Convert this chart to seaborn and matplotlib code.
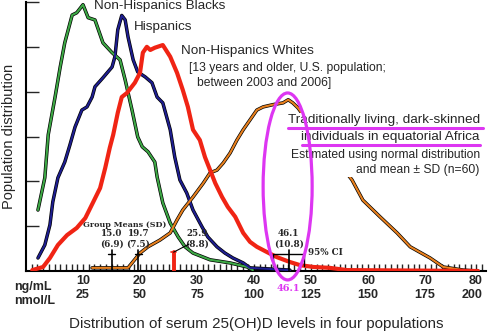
import matplotlib
matplotlib.use("Agg")
import matplotlib.pyplot as plt
import seaborn as sns
import numpy as np
import pandas as pd
from matplotlib.patches import Ellipse, Rectangle

# ---------------- data (x: ng/mL, y: relative population distribution) ----------------
blacks_x = [2.1, 3.3, 3.9, 5.1, 6.0, 6.8, 8.1, 8.9, 10.0, 10.9, 12.1, 13.5, 15.1, 16.5, 17.4,
            18.6, 19.6, 20.4, 21.4, 22.6, 23.0, 24.0, 25.3, 26.7, 27.9, 29.3, 32.3, 35.8, 38.8, 39.8]
blacks_y = [1.36, 2.08, 3.04, 3.88, 4.55, 5.09, 5.71, 5.76, 5.94, 5.65, 5.60, 5.09, 4.87, 4.71, 4.26,
            3.59, 2.99, 2.77, 2.66, 2.43, 2.10, 1.52, 1.07, 0.76, 0.54, 0.40, 0.25, 0.18, 0.09, 0.02]

hisp_x = [2.1, 3.3, 4.2, 4.7, 5.6, 6.8, 7.7, 8.6, 9.8, 10.7, 11.6, 12.1, 13.5, 15.1, 15.6, 16.1,
          16.8, 17.4, 17.9, 18.8, 19.6, 20.9, 22.1, 23.0, 24.0, 25.3, 26.1, 27.0, 28.2, 29.3, 30.9,
          31.9, 33.5, 34.9, 36.3, 38.1, 39.3, 46.3]
hisp_y = [0.29, 0.58, 1.03, 1.54, 2.08, 2.43, 2.81, 3.21, 3.59, 3.66, 3.88, 4.11, 4.31, 4.55, 4.78, 5.38,
          5.70, 5.60, 5.22, 4.71, 4.44, 4.33, 4.20, 3.88, 3.75, 3.15, 2.54, 2.03, 1.74, 1.36, 0.98,
          0.76, 0.54, 0.40, 0.29, 0.18, 0.07, 0.02]

whites_x = [1.1, 3.0, 4.2, 5.6, 7.2, 8.9, 10.4, 11.8, 13.0, 13.9, 14.7, 15.3, 16.1, 16.8, 17.7, 19.1,
            20.0, 20.5, 21.2, 21.8, 22.6, 24.0, 25.3, 26.5, 27.5, 28.4, 29.3, 30.5, 31.4, 32.3, 33.2,
            34.4, 35.4, 36.7, 38.1, 39.3, 40.5, 42.3, 44.0, 46.3, 48.1, 50.4, 53.3, 56.3, 79.3]
whites_y = [0.02, 0.09, 0.29, 0.58, 0.80, 0.96, 1.18, 1.54, 1.85, 2.30, 2.75, 3.04, 3.53, 3.88, 3.97, 4.20,
            4.42, 4.87, 5.00, 4.93, 4.98, 5.04, 4.78, 4.42, 4.04, 3.66, 3.15, 2.92, 2.54, 2.25, 1.96,
            1.65, 1.43, 1.21, 0.85, 0.65, 0.54, 0.42, 0.31, 0.20, 0.13, 0.09, 0.07, 0.02, 0.0]

africa_x = [11.6, 17.9, 20.0, 21.4, 23.5, 25.3, 26.5, 27.5, 29.3, 31.1, 32.3, 33.5, 34.6, 35.8, 37.0,
            38.1, 39.3, 40.5, 41.6, 43.3, 45.1, 46.0, 46.8, 47.7, 52.5, 57.2, 59.1, 62.1, 65.1, 67.4,
            70.9, 73.2, 76.7, 79.3]
africa_y = [0.07, 0.07, 0.40, 0.54, 0.69, 0.85, 1.14, 1.36, 1.65, 1.96, 2.19, 2.25, 2.41, 2.63, 2.92,
            3.15, 3.37, 3.59, 3.66, 3.71, 3.75, 3.82, 3.75, 3.64, 2.81, 2.03, 1.58, 1.21, 0.85, 0.54,
            0.29, 0.09, 0.02, 0.0]

group_means = [15.0, 19.7, 25.9, 46.1]
group_sds = [6.9, 7.5, 8.8, 10.8]
ci_low, ci_high = 43.4, 48.8

ng_ticks = [10, 20, 30, 40, 50, 60, 70, 80]
nmol_ticks = [25, 50, 75, 100, 125, 150, 175, 200]

# ---------------- style ----------------
sns.set_style("white")
plt.rcParams['font.family'] = ['Liberation Sans', 'DejaVu Sans']

fig = plt.figure(figsize=(4.89, 3.31), dpi=100)
ax = fig.add_axes([26/489, 1-271/331, 460/489, 269/331])
ax.set_xlim(0, 80.7)
ax.set_ylim(0, 6.0)

GREEN = '#3da845'
NAVY = '#1e1e90'
RED = '#f02414'
ORANGE = '#e8801e'
MAG = '#dd36f2'

df_b = pd.DataFrame({'x': blacks_x, 'y': blacks_y})
df_h = pd.DataFrame({'x': hisp_x, 'y': hisp_y})
df_w = pd.DataFrame({'x': whites_x, 'y': whites_y})
df_a = pd.DataFrame({'x': africa_x, 'y': africa_y})

for df, col in [(df_b, GREEN), (df_h, NAVY), (df_a, ORANGE)]:
    sns.lineplot(data=df, x='x', y='y', ax=ax, color='black', lw=2.5, sort=False, zorder=2)
    sns.lineplot(data=df, x='x', y='y', ax=ax, color=col, lw=1.5, sort=False, zorder=3)
sns.lineplot(data=df_w, x='x', y='y', ax=ax, color=RED, lw=3.0, sort=False, zorder=4)

# white box behind Africa text
ax.add_patch(Rectangle((47.9, 2.1), 32.5, 1.42, facecolor='white', edgecolor='none', zorder=5))

# axes styling
ax.spines['top'].set_visible(False)
ax.spines['right'].set_visible(False)
for s in ['left', 'bottom']:
    ax.spines[s].set_linewidth(1.5)
    ax.spines[s].set_color('black')
ax.set_xticks(ng_ticks)
ax.set_xticks(np.arange(1, 81), minor=True)
ax.set_xticklabels([f"{a}\n{b}" for a, b in zip(ng_ticks, nmol_ticks)],
                   fontsize=9, fontweight='bold', linespacing=1.25)
ax.get_xticklabels()[-1].set_horizontalalignment('right')
ax.tick_params(axis='x', which='both', direction='in', length=5, width=1.0, pad=3, bottom=True)
ax.set_yticks(np.arange(1, 7))
ax.set_yticklabels([])
ax.tick_params(axis='y', direction='in', length=9, width=1.0, left=True)
ax.set_xlabel("Distribution of serum 25(OH)D levels in four populations", fontsize=10.9, labelpad=11)
ax.set_ylabel("Population distribution", fontsize=10.5, labelpad=4)
ax.text(-2.1, -0.22, "ng/mL\nnmol/L", fontsize=9, fontweight='bold', ha='left', va='top',
        linespacing=1.25, clip_on=False)

# curve labels
ax.text(11.9, 5.92, "Non-Hispanics Blacks", fontsize=9.7, va='center', ha='left')
ax.text(18.95, 5.45, "Hispanics", fontsize=9.7, va='center', ha='left')
ax.text(27.2, 4.91, "Non-Hispanics Whites", fontsize=9.7, va='center', ha='left')
ax.text(28.6, 4.53, "[13 years and older, U.S. population;", fontsize=8.7, va='center', ha='left')
ax.text(30.0, 4.20, "between 2003 and 2006]", fontsize=8.7, va='center', ha='left')

ax.text(79.6, 3.37, "Traditionally living, dark-skinned", fontsize=9.7, va='center', ha='right', zorder=6)
ax.text(79.6, 2.99, "individuals in equatorial Africa", fontsize=9.7, va='center', ha='right', zorder=6)
ax.text(79.6, 2.59, "Estimated using normal distribution", fontsize=8.7, va='center', ha='right', zorder=6)
ax.text(79.6, 2.25, "and mean \u00b1 SD (n=60)", fontsize=8.7, va='center', ha='right', zorder=6)
ax.plot([46.0, 80.2], [3.19, 3.19], color=MAG, lw=2.2, zorder=7)
ax.plot([48.4, 79.6], [2.81, 2.81], color=MAG, lw=2.2, zorder=7)

# group means
serif = dict(family='DejaVu Serif', fontweight='bold')
ax.text(17.4, 1.03, "Group Means (SD)", va='center', ha='center', fontsize=5.8, **serif)
label_x = [group_means[0], group_means[1], 30.0, group_means[3]]
for m, sd, lx in zip(group_means, group_sds, label_x):
    ax.text(lx, 0.83, f"{m:.1f}", va='center', ha='center', fontsize=6.3, **serif)
    ax.text(lx, 0.61, f"({sd:.1f})", va='center', ha='center', fontsize=6.3, **serif)
for m in [group_means[0], group_means[1], group_means[3]]:
    ax.plot([m, m], [0, 0.47], color='black', lw=1.2, zorder=6)
for m in [group_means[0], group_means[1]]:
    ax.plot([m - 0.6, m + 0.6], [0.38, 0.38], color='black', lw=1.0, zorder=6)
ax.plot([group_means[2], group_means[2]], [0, 0.42], color=RED, lw=2.8, zorder=6)
ax.plot([group_means[2] - 0.5, group_means[2] + 0.5], [0.42, 0.42], color=RED, lw=1.2, zorder=6)
ax.plot([group_means[2], 28.6], [0.42, 0.6], color='black', lw=0.8, zorder=6)
ax.plot([ci_low, ci_high], [0.38, 0.38], color='black', lw=1.0, zorder=6)
ax.plot([ci_low, ci_low], [0.12, 0.38], color='black', lw=1.0, zorder=6)
ax.plot([ci_high, ci_high], [0.12, 0.38], color='black', lw=1.0, zorder=6)
ax.text(49.5, 0.42, "95% CI", va='center', ha='left', fontsize=6.3, **serif)

# highlight ellipse
ax.add_patch(Ellipse((45.9, 1.886), 8.6, 4.17, facecolor='none', edgecolor=MAG, lw=2.3,
                     zorder=8, clip_on=False))
ax.text(46.1, -0.38, "46.1", color=MAG, family='DejaVu Serif', fontweight='bold', fontsize=7,
        ha='center', va='center', clip_on=False)

fig.savefig("out.png", dpi=100)
